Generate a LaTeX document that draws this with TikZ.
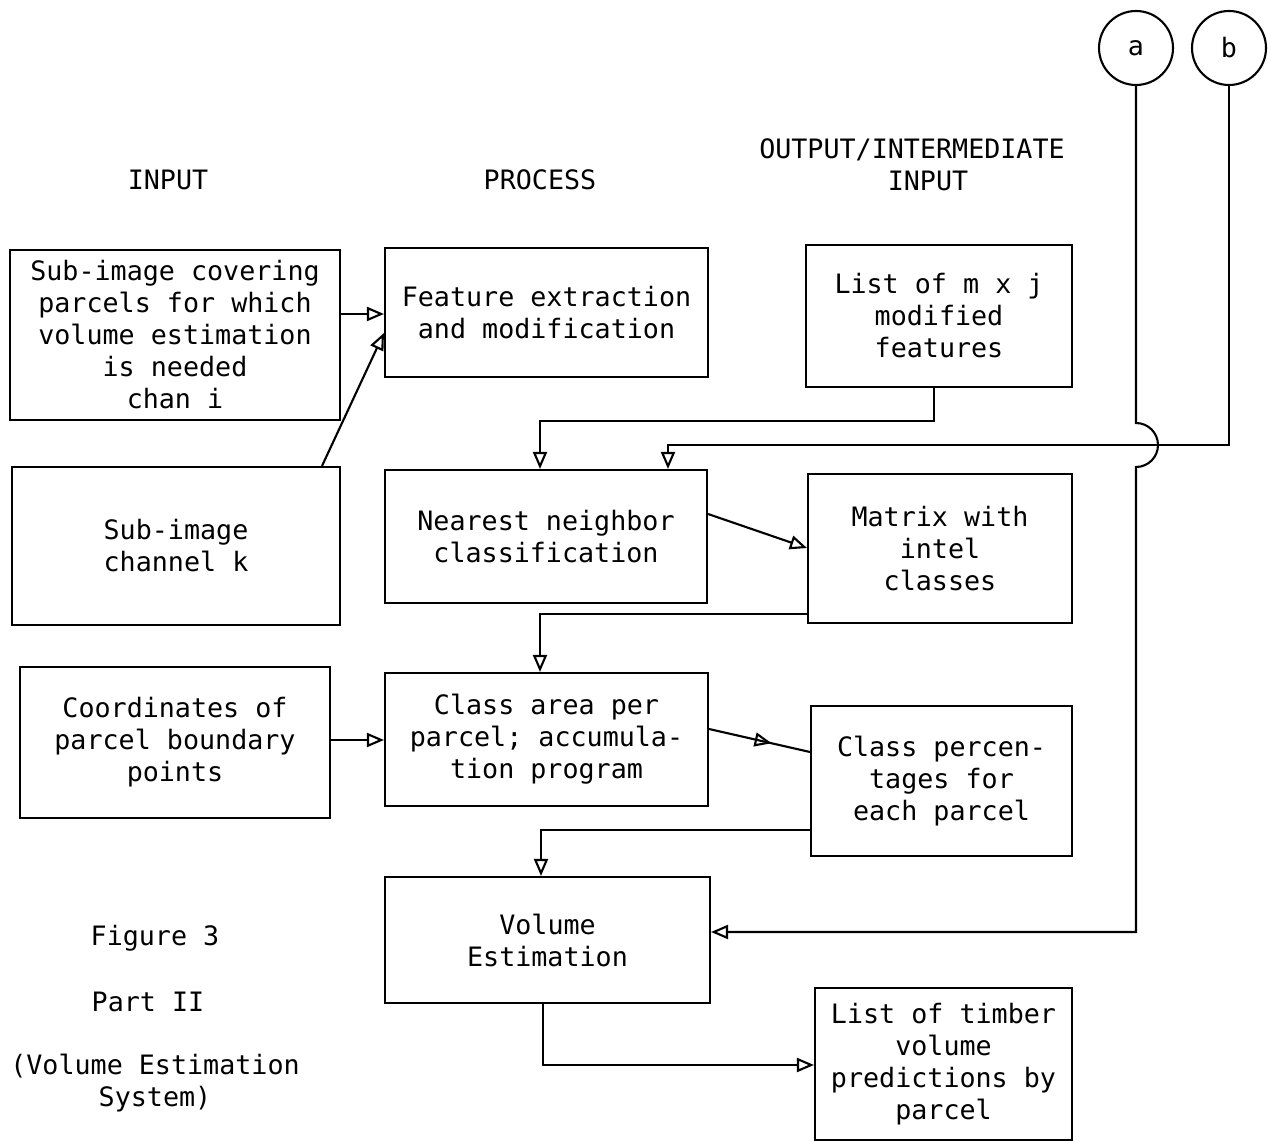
\documentclass[tikz,border=0pt]{standalone}
\usepackage{fontspec}
\setmainfont{DejaVu Sans Mono}
\usetikzlibrary{arrows.meta,decorations.markings}
\begin{document}
\begin{tikzpicture}[
			x=0.02cm, y=-0.02cm,
			every node/.style={font=\fontsize{15.2}{18.2}\selectfont},
			block/.style={draw, line width=1.2pt, align=center, inner sep=0pt},
			tag/.style={draw, circle, line width=1.2pt, minimum size=1.48cm, inner sep=0pt},
			head/.style={align=center},
			arr/.style={line width=1.2pt, -{Triangle[open, length=3.4mm, width=2.8mm]}},
			mid arrow/.style={line width=1.2pt,
					decoration={markings, mark=at position 0.62 with {\arrow{Triangle[open, length=3.4mm, width=2.8mm]}}},
					postaction={decorate}}
		]
		\useasboundingbox (0,0) rectangle (1271,1141);
		\node[head] (hin) at (168,180) {INPUT};
		\node[head] (hproc) at (540,180) {PROCESS};
		\node[head] (hout) at (912,165) {OUTPUT/INTERMEDIATE\\\hspace*{1.2em}INPUT};
		\node[tag] (a) at (1136,48) {a};
		\node[tag] (b) at (1229,48) {b};
		\node[block, minimum width=6.6cm, minimum height=3.4cm] (in1) at (175,335)
			{Sub-image covering\\parcels for which\\volume estimation\\is needed\\chan i};
		\node[block, minimum width=6.56cm, minimum height=3.16cm] (in2) at (176,546)
			{Sub-image\\channel k};
		\node[block, minimum width=6.2cm, minimum height=3.02cm] (in3) at (175,742.5)
			{Coordinates of\\parcel boundary\\points};
		\node[block, minimum width=6.46cm, minimum height=2.58cm] (p1) at (546.5,312.5)
			{Feature extraction\\and modification};
		\node[block, minimum width=6.44cm, minimum height=2.66cm] (p2) at (546,536.5)
			{Nearest neighbor\\classification};
		\node[block, minimum width=6.46cm, minimum height=2.66cm] (p3) at (546.5,739.5)
			{Class area per\\parcel; accumula-\\tion program};
		\node[block, minimum width=6.5cm, minimum height=2.52cm] (p4) at (547.5,940)
			{Volume\\Estimation};
		\node[block, minimum width=5.32cm, minimum height=2.84cm] (o1) at (939,316)
			{List of m x j\\modified\\features};
		\node[block, minimum width=5.28cm, minimum height=2.98cm] (o2) at (940,548.5)
			{Matrix with\\intel\\classes};
		\node[block, minimum width=5.22cm, minimum height=3cm] (o3) at (941.5,781)
			{Class percen-\\tages for\\each parcel};
		\node[block, minimum width=5.14cm, minimum height=3.04cm] (o4) at (943.5,1064)
			{List of timber\\volume\\predictions by\\parcel};
		\node (fig) at (155,938) {Figure 3};
		\node (part) at (148,1002) {Part II};
		\node[align=center] (sys) at (155,1083) {(Volume Estimation\\System)};
		\draw[arr] (in1.east |- 0,314) -- (p1.west |- 0,314);
		\draw[arr] (in2.north -| 322,0) -- (p1.west |- 0,333);
		\draw[arr] (o1.south -| 934,0) -- (934,421) -| (p2.north -| 540,0);
		\draw[arr] (b.south) -- (1229,445) -| (p2.north -| 668,0);
		\draw[arr] (a.south) -- (1136,423) arc[start angle=-90, end angle=90, radius=22]
			-- (1136,932) -- (p4.east |- 0,932);
		\draw[arr] (p2.east |- 0,514) -- (o2.west |- 0,548);
		\draw[arr] (o2.west |- 0,614) -| (p3.north -| 540,0);
		\draw[arr] (in3.east |- 0,740) -- (p3.west |- 0,740);
		\draw[mid arrow] (p3.east |- 0,729) -- (o3.west |- 0,752);
		\draw[arr] (o3.west |- 0,830) -| (p4.north -| 541,0);
		\draw[arr] (p4.south -| 543,0) |- (o4.west |- 0,1065);
	\end{tikzpicture}
\end{document}
